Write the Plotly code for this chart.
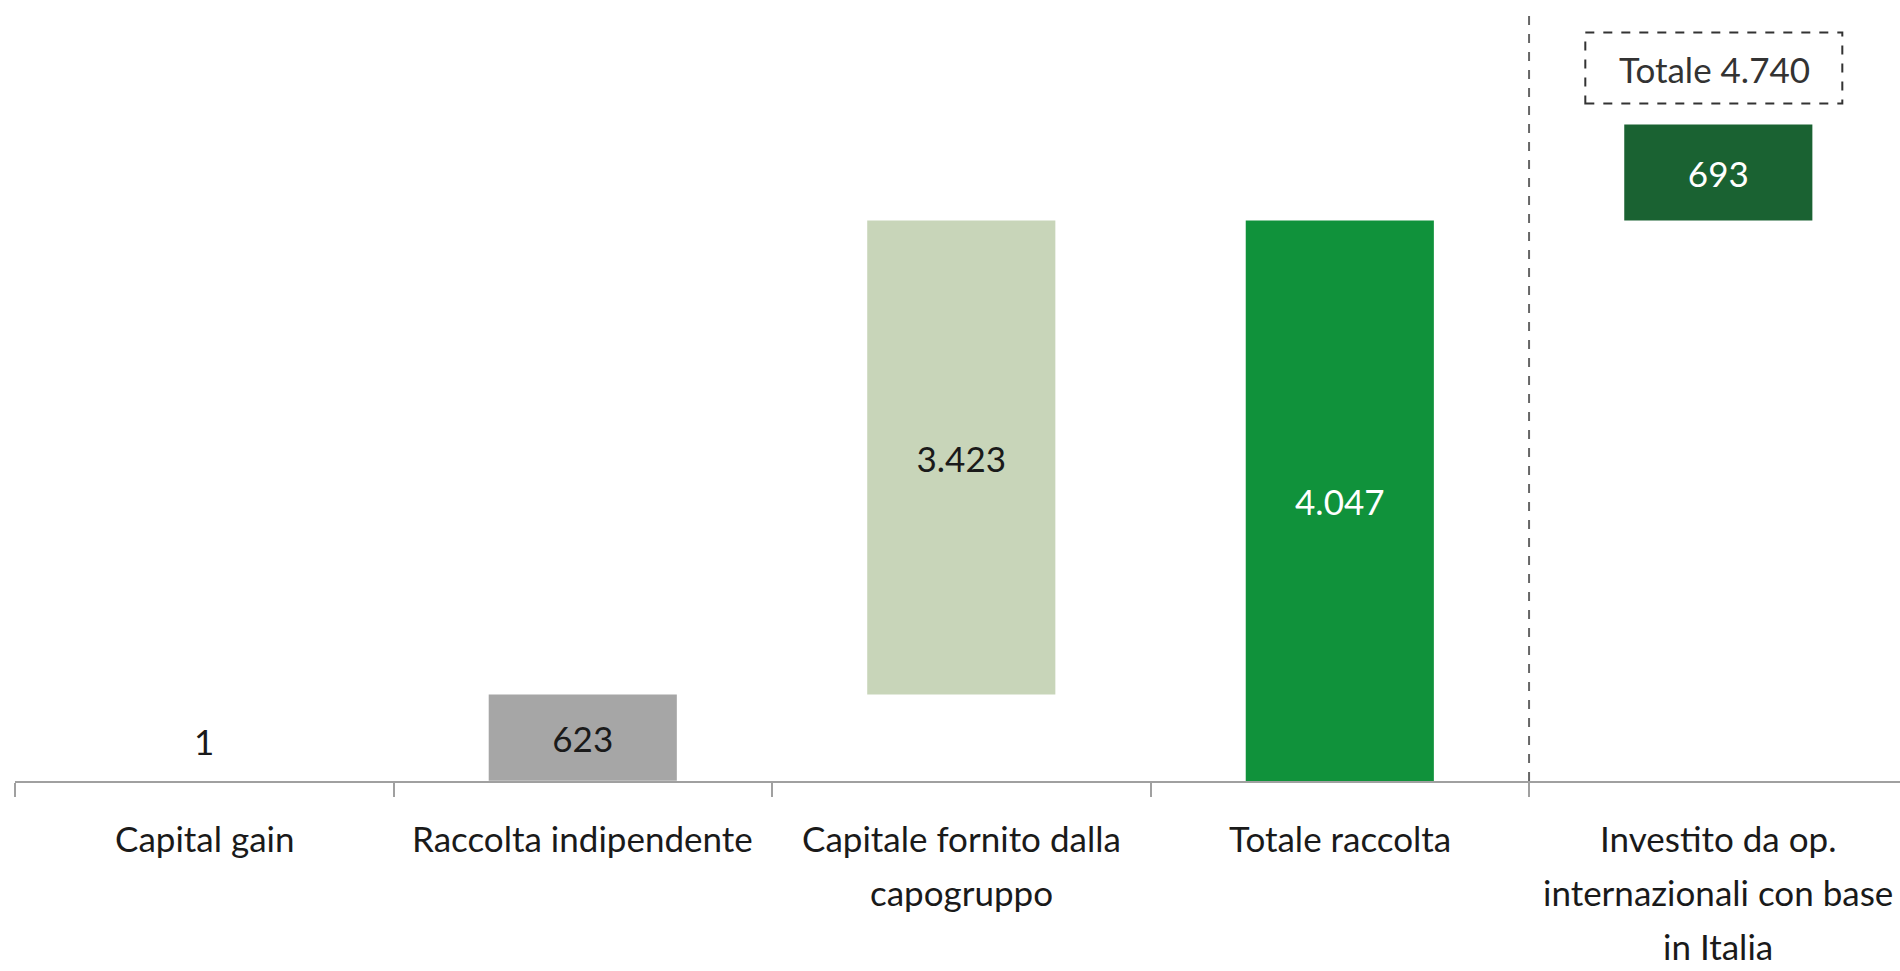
import plotly.graph_objects as go

# ---- data ----
categories = ["Capital gain", "Raccolta indipendente", "Capitale fornito dalla\ncapogruppo",
              "Totale raccolta", "Investito da op.\ninternazionali con base\nin Italia"]
values = [1, 623, 3423, 4047, 693]
bases = [0, 1, 624, 0, 4047]
total_label = "Totale 4.740"
total_value = 4740
bar_colors = ["rgba(255,255,255,0)", "#a6a6a6", "#c8d5b9", "#10923b", "#1a6232"]
text_colors = ["#1a1a1a", "#1a1a1a", "#1a1a1a", "#ffffff", "#ffffff"]

FONT = "Lato"
FS = 35

def fmt(v):
    return f"{v:,}".replace(",", ".")

xs = list(range(len(categories)))
texts = [fmt(v) if i > 0 else "" for i, v in enumerate(values)]

fig = go.Figure()
fig.add_trace(go.Bar(
    x=xs, y=values, base=bases,
    marker=dict(color=bar_colors, line=dict(width=0)),
    width=0.497,
    text=texts, textposition="inside", insidetextanchor="middle", textangle=0,
    insidetextfont=dict(family=FONT, size=FS, color=text_colors),
    constraintext="none",
    hoverinfo="skip",
))

annotations = []
# small bar label (Capital gain)
annotations.append(dict(x=0, y=0, xref="x", yref="y", text=fmt(values[0]), showarrow=False,
                        yanchor="middle", yshift=40,
                        font=dict(family=FONT, size=FS, color="#1a1a1a")))
# category labels
for i, cat in enumerate(categories):
    for k, line in enumerate(cat.split("\n")):
        annotations.append(dict(x=i, y=0, xref="x", yref="paper", text=line, showarrow=False,
                                yanchor="middle", yshift=-57 - 54 * k,
                                font=dict(family=FONT, size=FS, color="#1a1a1a")))
# total label
annotations.append(dict(x=4, y=total_value, xref="x", yref="y", text=total_label, showarrow=False,
                        yanchor="middle", xshift=-4, yshift=56,
                        font=dict(family=FONT, size=FS, color="#333333")))

shapes = [
    dict(type="line", xref="x", yref="paper", x0=3.5, x1=3.5, y0=0, y1=1,
         line=dict(color="#666666", width=2, dash="dash")),
    dict(type="rect", xref="x", yref="y", xsizemode="pixel", ysizemode="pixel",
         xanchor=4, yanchor=total_value, x0=-133, x1=124, y0=21, y1=92,
         line=dict(color="#333333", width=2, dash="dash"), fillcolor="rgba(0,0,0,0)"),
]

fig.update_layout(
    width=1900, height=971,
    margin=dict(l=15, r=0, t=15, b=190),
    paper_bgcolor="white", plot_bgcolor="white",
    showlegend=False,
    bargap=0.5,
    annotations=annotations,
    shapes=shapes,
    xaxis=dict(range=[-0.5, 4.48], tickmode="array", tickvals=[-0.5, 0.5, 1.5, 2.5, 3.5],
               ticktext=["", "", "", "", ""], ticks="outside", ticklen=14, tickcolor="#a0a0a0",
               tickwidth=1.5, showline=True, linecolor="#a0a0a0", linewidth=2,
               showgrid=False, zeroline=False, fixedrange=True),
    yaxis=dict(range=[0, 5531], visible=False, showgrid=False, zeroline=False, fixedrange=True),
)

fig.write_html("out.html", config={"displayModeBar": False},
               post_script="document.body.style.margin='0';document.body.style.overflow='hidden';")
